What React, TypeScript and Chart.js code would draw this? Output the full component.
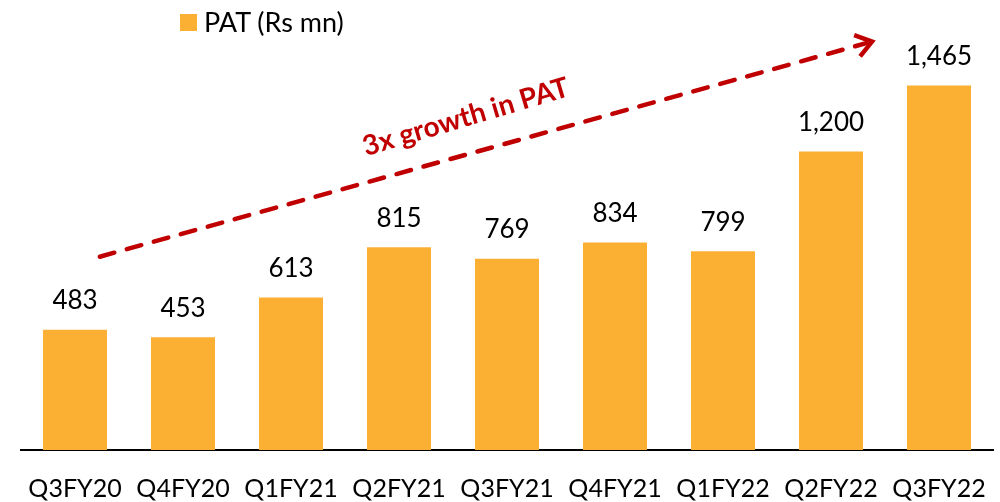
import React, { useEffect, useRef } from "react";
import { Chart, registerables } from "chart.js";

Chart.register(...registerables);

const categories = ["Q3FY20", "Q4FY20", "Q1FY21", "Q2FY21", "Q3FY21", "Q4FY21", "Q1FY22", "Q2FY22", "Q3FY22"];
const patValues = [483, 453, 613, 815, 769, 834, 799, 1200, 1465];
const seriesLabel = "PAT (Rs mn)";
const annotationText = "3x growth in PAT";
// arrow endpoints in data space: [category index, value]
const arrowFrom = [0.23, 777];
const arrowTo = [7.38, 1642];
const annotationAt = [3.62, 1338];

const FONT = "Lato, 'Open Sans', sans-serif";
const BAR_COLOR = "#FBB034";
const RED = "#C00000";

const valueLabels = {
  id: "valueLabels",
  afterDatasetsDraw(chart: any) {
    const ctx = chart.ctx;
    const meta = chart.getDatasetMeta(0);
    ctx.save();
    ctx.font = `26px ${FONT}`;
    ctx.fillStyle = "#000";
    ctx.textAlign = "center";
    ctx.textBaseline = "middle";
    meta.data.forEach((bar: any, i: number) => {
      const v = chart.data.datasets[0].data[i];
      ctx.fillText(Number(v).toLocaleString("en-US"), bar.x, bar.y - 29);
    });
    ctx.restore();
  },
};

const growthArrow = {
  id: "growthArrow",
  afterDraw(chart: any) {
    const ctx = chart.ctx;
    const xs = chart.scales.x;
    const ys = chart.scales.y;
    const x1 = xs.getPixelForValue(arrowFrom[0]);
    const y1 = ys.getPixelForValue(arrowFrom[1]);
    const x2 = xs.getPixelForValue(arrowTo[0]);
    const y2 = ys.getPixelForValue(arrowTo[1]);
    const ang = Math.atan2(y2 - y1, x2 - x1);
    ctx.save();
    ctx.strokeStyle = RED;
    ctx.lineWidth = 4.5;
    ctx.lineCap = "round";
    ctx.setLineDash([15, 13]);
    ctx.beginPath();
    ctx.moveTo(x1, y1);
    ctx.lineTo(x2 - 6 * Math.cos(ang), y2 - 6 * Math.sin(ang));
    ctx.stroke();
    ctx.setLineDash([]);
    ctx.lineJoin = "miter";
    ctx.lineCap = "butt";
    const L = 19;
    const a = 0.62;
    ctx.beginPath();
    ctx.moveTo(x2 - L * Math.cos(ang - a), y2 - L * Math.sin(ang - a));
    ctx.lineTo(x2, y2);
    ctx.lineTo(x2 - L * Math.cos(ang + a), y2 - L * Math.sin(ang + a));
    ctx.stroke();

    const tx = xs.getPixelForValue(annotationAt[0]);
    const ty = ys.getPixelForValue(annotationAt[1]);
    ctx.translate(tx, ty);
    ctx.rotate(-16.5 * Math.PI / 180);
    ctx.font = `bold 28px ${FONT}`;
    ctx.fillStyle = RED;
    ctx.textAlign = "center";
    ctx.textBaseline = "middle";
    ctx.fillText(annotationText, 0, 0);
    ctx.restore();
  },
};

export default function App() {
  const ref = useRef<HTMLCanvasElement>(null);
  useEffect(() => {
    if (!ref.current) return;
    const chart = new Chart(ref.current, {
      type: "bar",
      data: {
        labels: categories,
        datasets: [
          {
            label: seriesLabel,
            data: patValues,
            backgroundColor: BAR_COLOR,
            barPercentage: 0.593,
            categoryPercentage: 1,
          },
        ],
      },
      options: {
        animation: false,
        responsive: false,
        layout: { padding: { top: 52, left: 21, right: 7, bottom: 0 } },
        plugins: { legend: { display: false }, tooltip: { enabled: false } },
        scales: {
          x: {
            grid: { display: false, drawTicks: false },
            border: { display: true, color: "#000", width: 2 },
            ticks: { color: "#000", font: { family: FONT, size: 25 }, padding: 24, maxRotation: 0, autoSkip: false },
            afterFit(scale: any) {
              scale.height = 52;
              scale.paddingLeft = 0;
              scale.paddingRight = 0;
            },
          },
          y: { display: false, min: 0, max: 1600 },
        },
      },
      plugins: [valueLabels, growthArrow],
    });
    return () => chart.destroy();
  }, []);

  return (
    <div style={{ position: "fixed", left: 0, top: 0, width: 1000, height: 502, background: "#fff" }}>
      <canvas ref={ref} width={1000} height={502} style={{ position: "absolute", left: 0, top: 0 }} />
      <div
        style={{
          position: "absolute",
          left: 180,
          top: 5,
          display: "flex",
          alignItems: "center",
          fontFamily: FONT,
          fontSize: 27,
          color: "#000",
          lineHeight: "34px",
        }}
      >
        <span style={{ display: "inline-block", width: 17, height: 17, background: BAR_COLOR, marginRight: 7 }} />
        <span>{seriesLabel}</span>
      </div>
    </div>
  );
}
